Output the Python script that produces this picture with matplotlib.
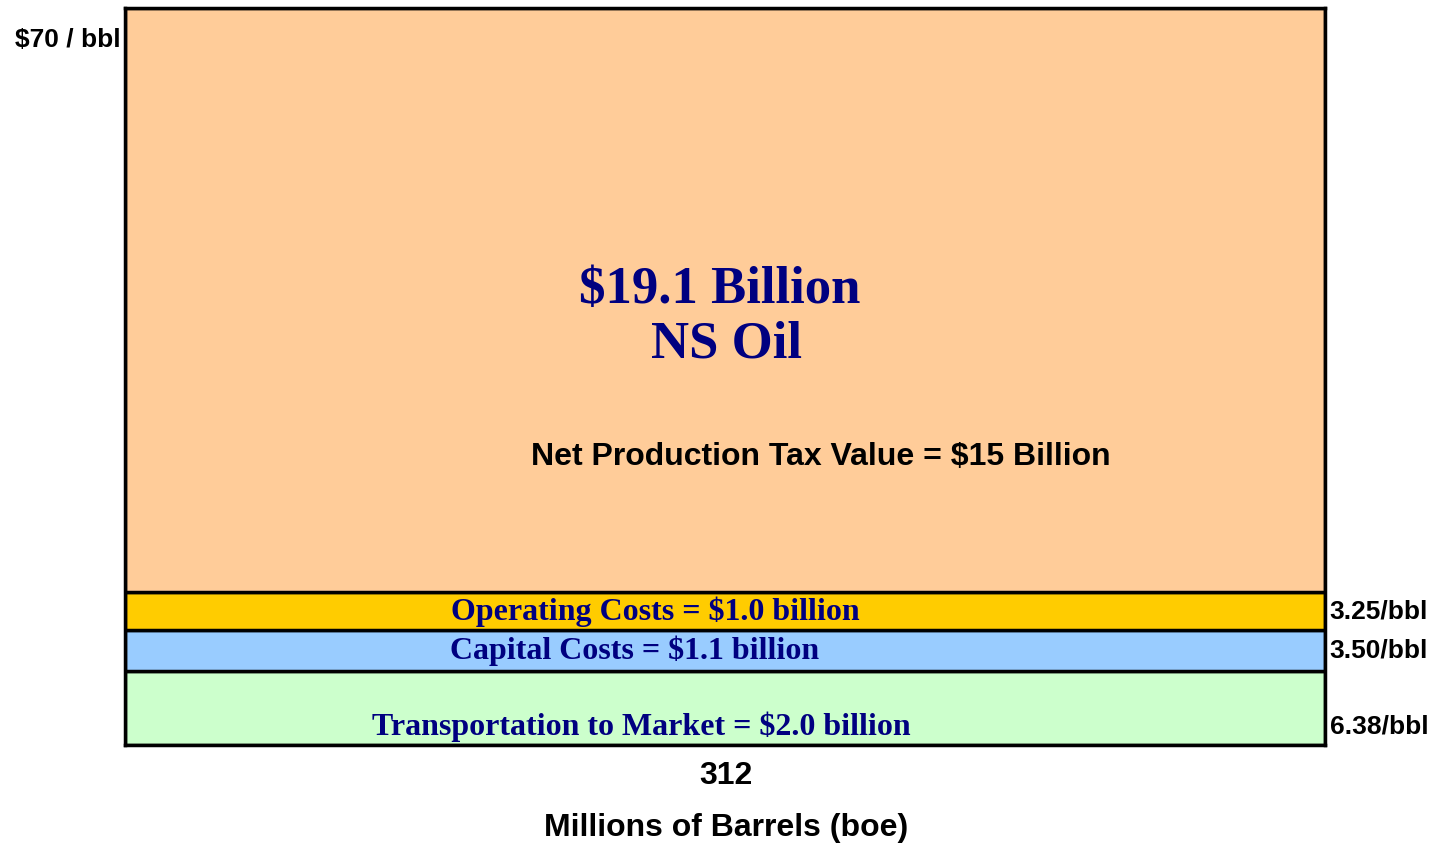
import matplotlib.pyplot as plt

# stacked $/bbl bands, bottom to top
bands = ["Transportation to Market", "Capital Costs", "Operating Costs", "NS Oil"]
per_bbl = [6.38, 3.50, 3.25]
band_labels = ["Transportation to Market = $2.0 billion",
               "Capital Costs = $1.1 billion",
               "Operating Costs = $1.0 billion"]
rate_labels = ["6.38/bbl", "3.50/bbl", "3.25/bbl"]
chart_top = 63.4          # top of the box on the $/bbl scale
barrels = 312             # millions of barrels
colors = ["#CCFFCC", "#99CCFF", "#FFCC00", "#FFCC99"]

serif = ["Liberation Serif", "DejaVu Serif"]
sans = ["Liberation Sans", "DejaVu Sans"]
navy = "#000080"

fig = plt.figure(figsize=(14.39, 8.44), dpi=100)
ax = fig.add_axes([125 / 1439, 1 - 745 / 844, 1200 / 1439, 737 / 844])

heights = per_bbl + [chart_top - sum(per_bbl)]
bottom = 0
bottoms = []
for h, c in zip(heights, colors):
    ax.bar(0, h, width=barrels, bottom=bottom, align="edge", color=c,
           edgecolor="black", linewidth=2.5)
    bottoms.append(bottom)
    bottom += h

ax.set_xlim(0, barrels)
ax.set_ylim(0, chart_top)
ax.set_xticks([])
ax.set_yticks([])
for s in ax.spines.values():
    s.set_linewidth(2.5)

# band labels inside the cost bars
label_x = [134.3, 132.6, 137.8]
label_y = [bottoms[0] + 0.25 * per_bbl[0], bottoms[1] + per_bbl[1] / 2, bottoms[2] + per_bbl[2] / 2]
for txt, x, y in zip(band_labels, label_x, label_y):
    ax.text(x, y, txt, ha="center", va="center", fontsize=23, fontweight="bold",
            color=navy, family=serif)

# per-barrel rates on the right
for txt, y in zip(rate_labels, label_y):
    ax.text(1.004, y, txt, transform=ax.get_yaxis_transform(), ha="left", va="center",
            fontsize=19, fontweight="bold", family=sans, clip_on=False)

ax.text(154.7, 38.0, "$19.1 Billion", ha="center", va="baseline", fontsize=38,
        fontweight="bold", color=navy, family=serif)
ax.text(156.4, 33.3, "NS Oil", ha="center", va="baseline", fontsize=38,
        fontweight="bold", color=navy, family=serif)
ax.text(181, 24.8, "Net Production Tax Value = $15 Billion", ha="center", va="center",
        fontsize=23, fontweight="bold", family=sans)

ax.text(-0.004, chart_top - 2.75, "$70 / bbl", transform=ax.get_yaxis_transform(),
        ha="right", va="center", fontsize=19, fontweight="bold", family=sans, clip_on=False)

fig.text(726 / 1439, 1 - 776 / 844, str(barrels), ha="center", va="center",
         fontsize=23, fontweight="bold", family=sans)
fig.text(726 / 1439, 1 - 828 / 844, "Millions of Barrels (boe)", ha="center", va="center",
         fontsize=23, fontweight="bold", family=sans)

fig.savefig("out.png", dpi=100)
